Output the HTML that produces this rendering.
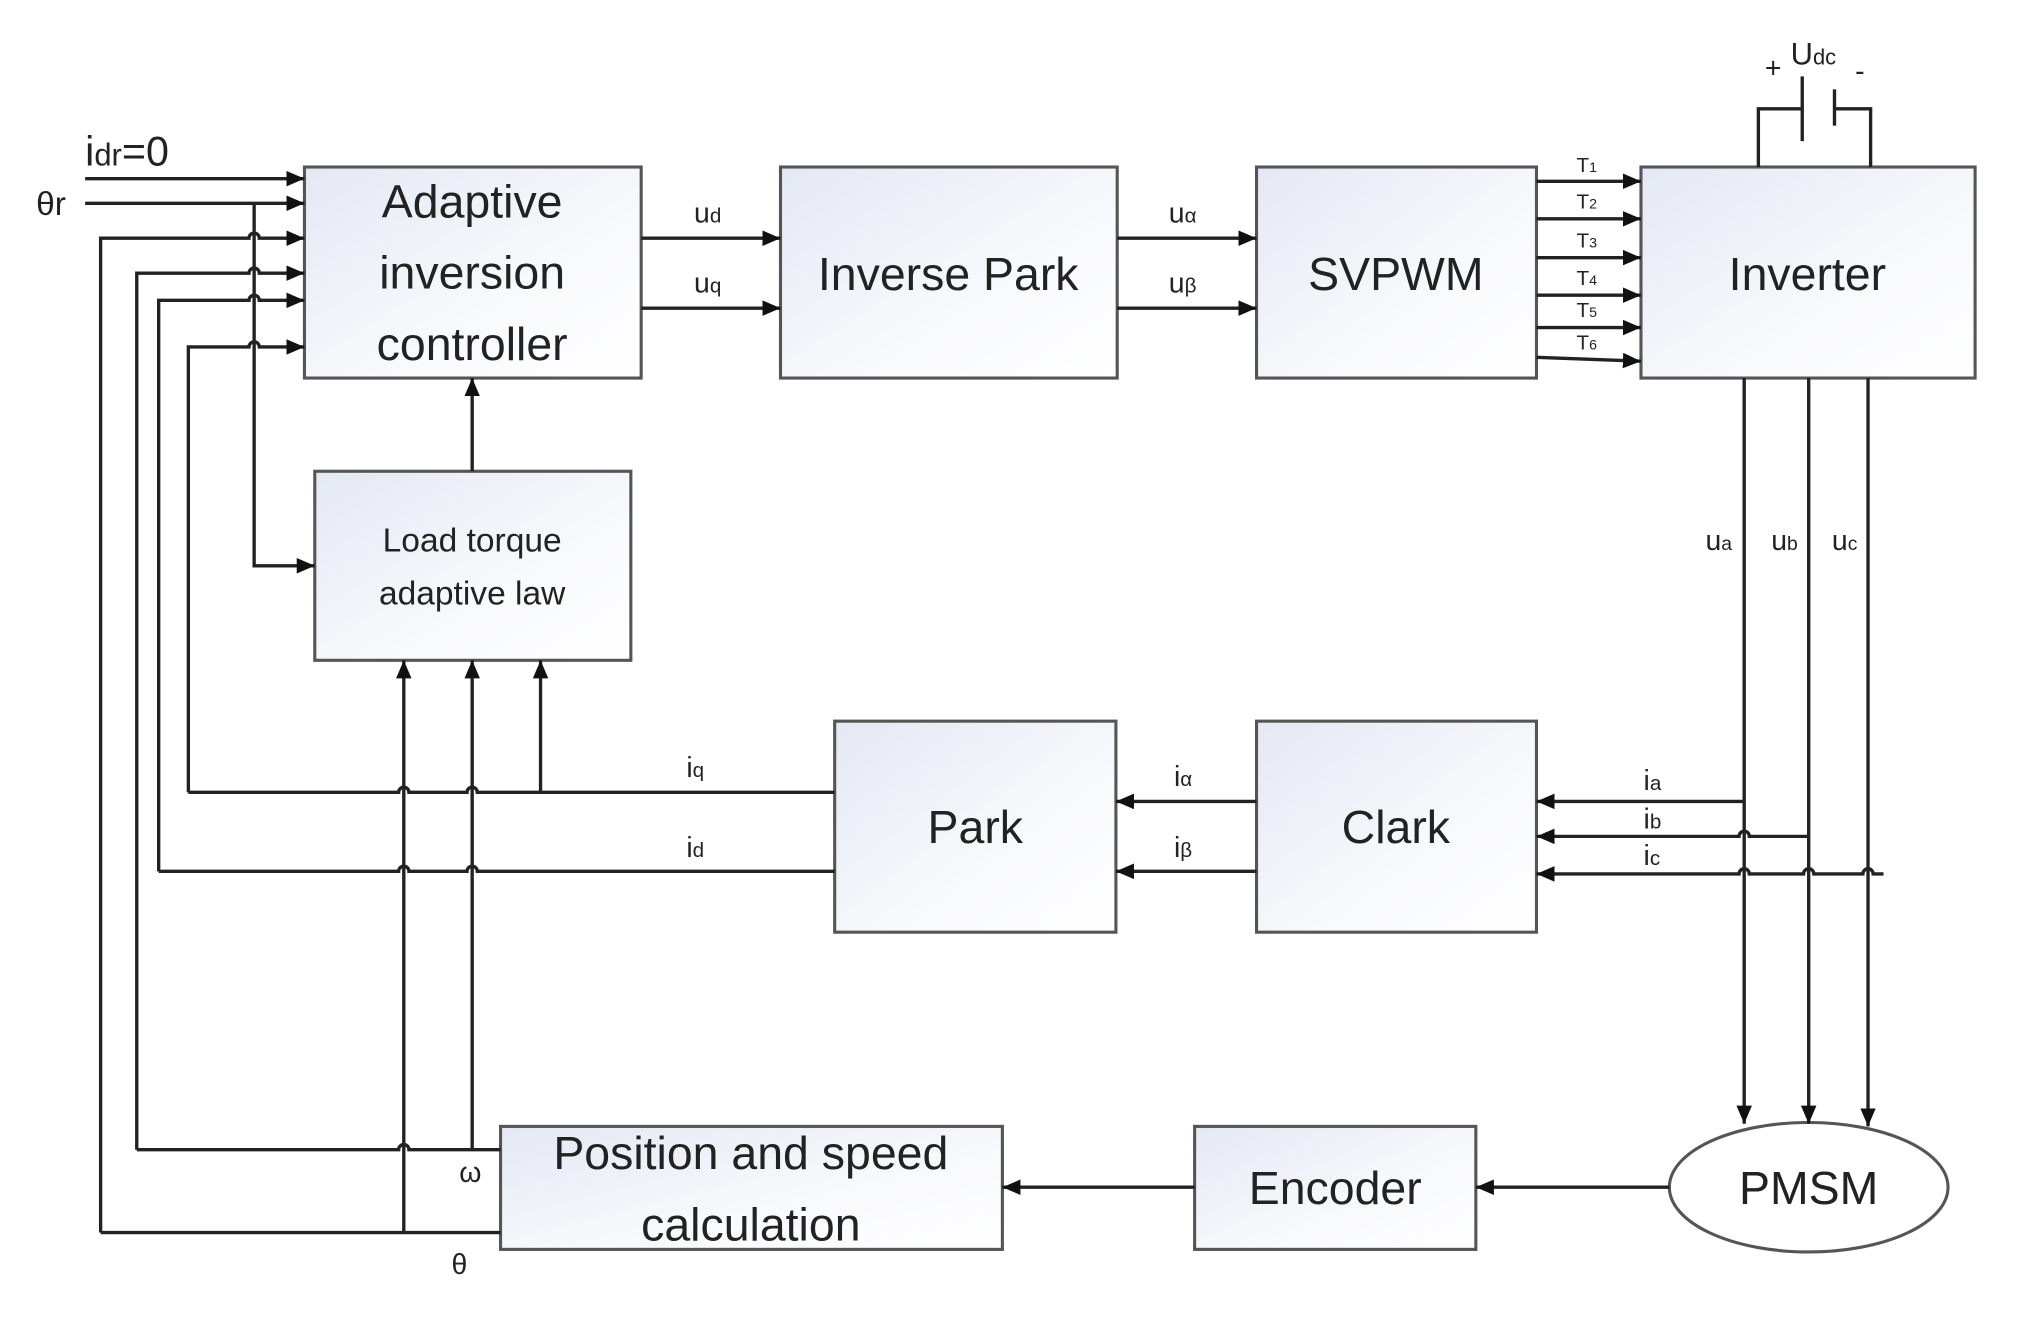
<!DOCTYPE html>
<html><head><meta charset="utf-8"><style>
html,body{margin:0;padding:0;background:#fff;}
svg{display:block;}
text{font-family:"Liberation Sans",sans-serif;fill:#222;}
</style></head><body>
<svg width="2028" height="1318" viewBox="0 0 1572 1018" preserveAspectRatio="none" xmlns="http://www.w3.org/2000/svg">
<defs>
<linearGradient id="g" x1="0" y1="0" x2="1" y2="1">
<stop offset="0" stop-color="#e4e8f4"/><stop offset="0.6" stop-color="#f8f9fc"/><stop offset="1" stop-color="#ffffff"/>
</linearGradient>
<marker id="a" viewBox="0 0 14 12" refX="14" refY="6" markerWidth="14" markerHeight="12" markerUnits="userSpaceOnUse" orient="auto">
<path d="M0,0 L14,6 L0,12 z" fill="#111"/>
</marker>
</defs>
<g fill="url(#g)" stroke="#555" stroke-width="2.4">
<rect x="236" y="129" width="261" height="163"/>
<rect x="605" y="129" width="261" height="163"/>
<rect x="974" y="129" width="217" height="163"/>
<rect x="1272" y="129" width="259" height="163"/>
<rect x="244" y="364" width="245" height="146"/>
<rect x="647" y="557" width="218" height="163"/>
<rect x="974" y="557" width="217" height="163"/>
<rect x="388" y="870" width="389" height="95"/>
<rect x="926" y="870" width="218" height="95"/>
<ellipse cx="1402" cy="917" rx="108" ry="50" fill="#fff"/>
</g>
<g fill="none" stroke="#222" stroke-width="2.6">
<path d="M66 138 H236" marker-end="url(#a)"/>
<path d="M66 157 H236" marker-end="url(#a)"/>
<path d="M78 952 V184 H193 A4 4 0 0 1 201 184 H236" marker-end="url(#a)"/>
<path d="M106 888 V211 H193 A4 4 0 0 1 201 211 H236" marker-end="url(#a)"/>
<path d="M123 673 V232 H193 A4 4 0 0 1 201 232 H236" marker-end="url(#a)"/>
<path d="M146 612 V268 H193 A4 4 0 0 1 201 268 H236" marker-end="url(#a)"/>
<path d="M197 157 V437 H244" marker-end="url(#a)"/>
<path d="M146 612 H309 A4 4 0 0 1 317 612 H362 A4 4 0 0 1 370 612 H647"/>
<path d="M123 673 H309 A4 4 0 0 1 317 673 H362 A4 4 0 0 1 370 673 H647"/>
<path d="M106 888 H309 A4 4 0 0 1 317 888 H388"/>
<path d="M78 952 H388"/>
<path d="M313 952 V510" marker-end="url(#a)"/>
<path d="M366 888 V510" marker-end="url(#a)"/>
<path d="M419 612 V510" marker-end="url(#a)"/>
<path d="M366 364 V292" marker-end="url(#a)"/>
<path d="M497 184 H605" marker-end="url(#a)"/>
<path d="M497 238 H605" marker-end="url(#a)"/>
<path d="M866 184 H974" marker-end="url(#a)"/>
<path d="M866 238 H974" marker-end="url(#a)"/>
<path d="M1191 140 H1272" marker-end="url(#a)"/>
<path d="M1191 169 H1272" marker-end="url(#a)"/>
<path d="M1191 199 H1272" marker-end="url(#a)"/>
<path d="M1191 228 H1272" marker-end="url(#a)"/>
<path d="M1191 253 H1272" marker-end="url(#a)"/>
<path d="M1191 276 L1272 279" marker-end="url(#a)"/>
<path d="M1363 129 V84 H1397 M1397 59 V109 M1422 69 V97 M1422 84 H1450 V129"/>
<path d="M1352 292 V868" marker-end="url(#a)"/>
<path d="M1402 292 V868" marker-end="url(#a)"/>
<path d="M1448 292 V870" marker-end="url(#a)"/>
<path d="M1352 619 H1191" marker-end="url(#a)"/>
<path d="M1402 646 H1356 A4 4 0 0 0 1348 646 H1191" marker-end="url(#a)"/>
<path d="M1460 675 H1452 A4 4 0 0 0 1444 675 H1406 A4 4 0 0 0 1398 675 H1356 A4 4 0 0 0 1348 675 H1191" marker-end="url(#a)"/>
<path d="M974 619 H865" marker-end="url(#a)"/>
<path d="M974 673 H865" marker-end="url(#a)"/>
<path d="M1294 917 H1144" marker-end="url(#a)"/>
<path d="M926 917 H777" marker-end="url(#a)"/>
</g>
<g font-size="36" text-anchor="middle">
<text x="366" y="168">Adaptive</text>
<text x="366" y="223">inversion</text>
<text x="366" y="278">controller</text>
<text x="735" y="224">Inverse Park</text>
<text x="1082" y="224">SVPWM</text>
<text x="1401" y="224">Inverter</text>
<text x="756" y="651">Park</text>
<text x="1082" y="651">Clark</text>
<text x="582" y="903">Position and speed</text>
<text x="582" y="958">calculation</text>
<text x="1035" y="930">Encoder</text>
<text x="1402" y="930">PMSM</text>
<text x="366" y="426" font-size="26">Load torque</text>
<text x="366" y="467" font-size="26">adaptive law</text>
</g>
<g font-size="22">
<text x="66" y="128" font-size="32">i<tspan font-size="24">dr</tspan>=0</text>
<text x="28" y="166" font-size="26">θr</text>
<text x="538" y="172">u<tspan font-size="16">d</tspan></text>
<text x="538" y="226">u<tspan font-size="16">q</tspan></text>
<text x="906" y="172">u<tspan font-size="16">α</tspan></text>
<text x="906" y="226">u<tspan font-size="16">β</tspan></text>
<text x="1222" y="133" font-size="16">T<tspan font-size="11">1</tspan></text>
<text x="1222" y="161" font-size="16">T<tspan font-size="11">2</tspan></text>
<text x="1222" y="191" font-size="16">T<tspan font-size="11">3</tspan></text>
<text x="1222" y="220" font-size="16">T<tspan font-size="11">4</tspan></text>
<text x="1222" y="245" font-size="16">T<tspan font-size="11">5</tspan></text>
<text x="1222" y="270" font-size="16">T<tspan font-size="11">6</tspan></text>
<text x="1368" y="60" font-size="22">+</text>
<text x="1388" y="50" font-size="24">U<tspan font-size="17">dc</tspan></text>
<text x="1438" y="62" font-size="22">-</text>
<text x="1322" y="425">u<tspan font-size="15">a</tspan></text>
<text x="1373" y="425">u<tspan font-size="15">b</tspan></text>
<text x="1420" y="425">u<tspan font-size="15">c</tspan></text>
<text x="1274" y="610">i<tspan font-size="16">a</tspan></text>
<text x="1274" y="640">i<tspan font-size="16">b</tspan></text>
<text x="1274" y="668">i<tspan font-size="16">c</tspan></text>
<text x="910" y="607">i<tspan font-size="16">α</tspan></text>
<text x="910" y="662">i<tspan font-size="16">β</tspan></text>
<text x="532" y="600">i<tspan font-size="16">q</tspan></text>
<text x="532" y="662">i<tspan font-size="16">d</tspan></text>
<text x="356" y="913">ω</text>
<text x="350" y="984">θ</text>
</g>
</svg>
</body></html>
